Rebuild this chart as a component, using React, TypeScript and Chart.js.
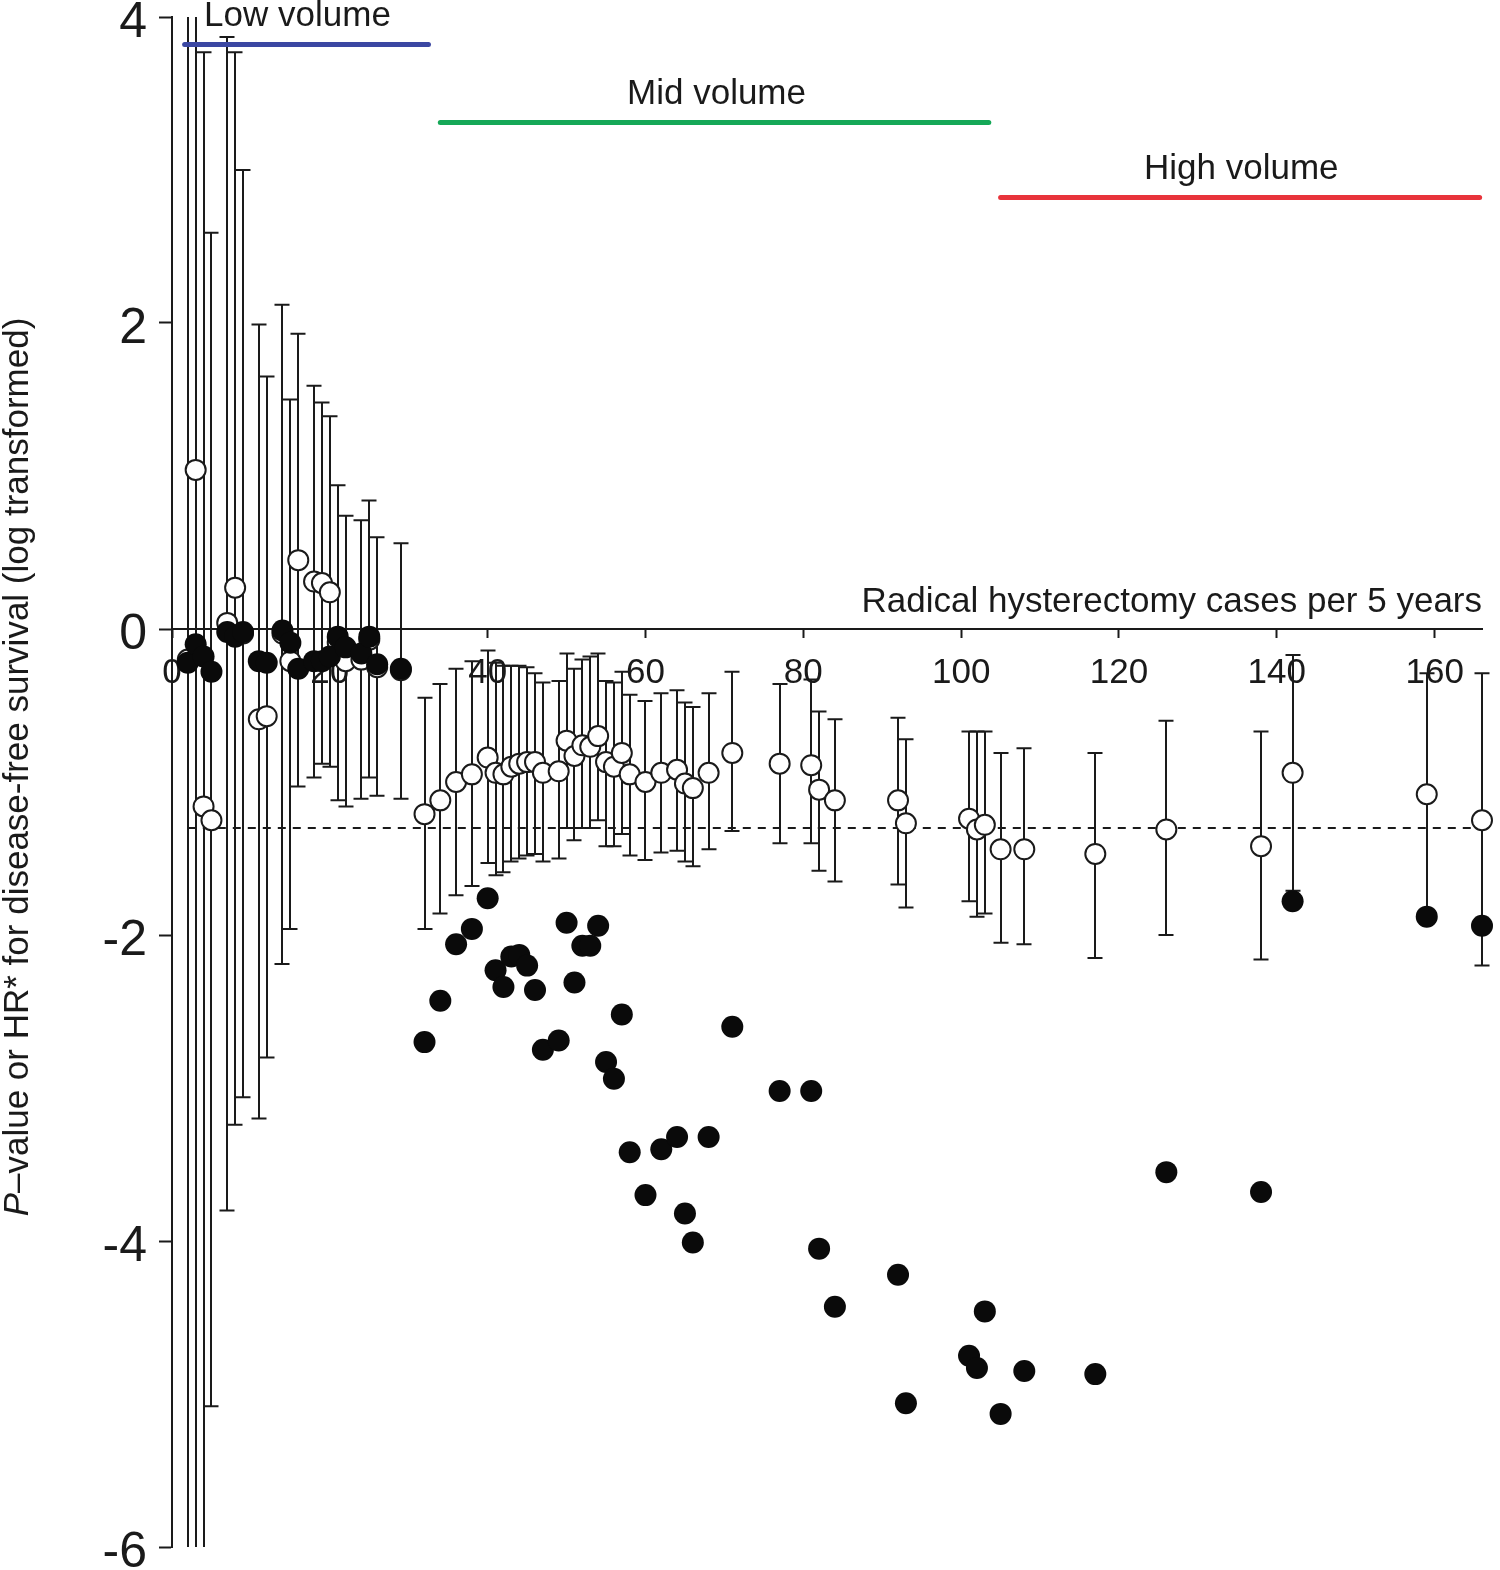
import React, { useEffect, useRef } from "react";
import { Chart, registerables } from "chart.js";

Chart.register(...registerables);

// ---------- data ----------
const caseCounts = [
  2, 3, 4, 5, 7, 8, 9, 11, 12, 14, 15, 16, 18, 19, 20, 21, 22, 24, 25, 26, 29,
  32, 34, 36, 38, 40, 41, 42, 43, 44, 45, 46, 47, 49, 50, 51, 52, 53, 54, 55, 56, 57, 58, 60, 62, 64, 65, 66, 68, 71,
  77, 81, 82, 84, 92, 93, 101, 102, 103,
  105, 108, 117, 126, 138, 142, 159, 166,
];

// log hazard ratio (open circles)
const hrLog = [
  -0.2, 1.04, -1.16, -1.25, 0.04, 0.27, -0.03, -0.59, -0.57, -0.03, -0.21, 0.45, 0.31, 0.3, 0.24, -0.09, -0.21, -0.2, -0.07, -0.25, -0.27,
  -1.21, -1.12, -1.0, -0.95, -0.84, -0.94, -0.95, -0.9, -0.88, -0.87, -0.87, -0.94, -0.93, -0.73, -0.83, -0.76, -0.77, -0.7, -0.87, -0.9, -0.81, -0.95, -1.0, -0.94, -0.92, -1.01, -1.04, -0.94, -0.81,
  -0.88, -0.89, -1.05, -1.12, -1.12, -1.27, -1.24, -1.31, -1.28,
  -1.44, -1.44, -1.47, -1.31, -1.42, -0.94, -1.08, -1.25,
];

const hrLower = [
  -9, -9, -9, -5.08, -3.8, -3.24, -3.06, -3.2, -2.8, -2.19, -1.96, -1.03, -0.97, -0.88, -0.9, -1.12, -1.16, -1.11, -0.97, -1.09, -1.11,
  -1.96, -1.86, -1.74, -1.68, -1.53, -1.61, -1.59, -1.52, -1.5, -1.48, -1.47, -1.52, -1.5, -1.3, -1.38, -1.3, -1.3, -1.25, -1.42, -1.42, -1.34, -1.48, -1.51, -1.46, -1.45, -1.52, -1.55, -1.44, -1.32,
  -1.4, -1.4, -1.58, -1.65, -1.67, -1.82, -1.78, -1.88, -1.86,
  -2.05, -2.06, -2.15, -2.0, -2.16, -1.71, -1.87, -2.2,
];

const hrUpper = [
  9, 9, 3.77, 2.59, 3.87, 3.77, 3.0, 1.99, 1.65, 2.12, 1.5, 1.93, 1.59, 1.48, 1.39, 0.94, 0.74, 0.71, 0.84, 0.6, 0.56,
  -0.45, -0.36, -0.26, -0.21, -0.14, -0.22, -0.24, -0.24, -0.24, -0.25, -0.29, -0.35, -0.34, -0.16, -0.26, -0.2, -0.18, -0.16, -0.34, -0.35, -0.28, -0.43, -0.47, -0.42, -0.4, -0.48, -0.51, -0.42, -0.28,
  -0.36, -0.33, -0.54, -0.59, -0.58, -0.72, -0.67, -0.67, -0.67,
  -0.81, -0.78, -0.81, -0.6, -0.67, -0.17, -0.29, -0.29,
];

// log P-value (filled circles)
const pLog = [
  -0.22, -0.1, -0.18, -0.28, -0.02, -0.05, -0.02, -0.21, -0.22, -0.01, -0.09, -0.26, -0.21, -0.21, -0.18, -0.05, -0.12, -0.16, -0.05, -0.23, -0.26,
  -2.7, -2.43, -2.06, -1.96, -1.76, -2.23, -2.34, -2.14, -2.13, -2.2, -2.36, -2.75, -2.69, -1.92, -2.31, -2.07, -2.07, -1.94, -2.83, -2.94, -2.52, -3.42, -3.7, -3.4, -3.32, -3.82, -4.01, -3.32, -2.6,
  -3.02, -3.02, -4.05, -4.43, -4.22, -5.06, -4.75, -4.83, -4.46,
  -5.13, -4.85, -4.87, -3.55, -3.68, -1.78, -1.88, -1.94,
];

const volumeLabels = ["Low volume", "Mid volume", "High volume"];
const volumeStart = [1.6, 34, 105];
const volumeEnd = [32.5, 103.5, 165.7];
const volumeLevel = [3.82, 3.31, 2.82];
const volumeLabelX = [15.9, 69, 135.5];
const volumeColors = ["#3b47a2", "#15a857", "#e8333b"];

const significanceLevel = -1.301;
const significanceRange = [2, 166];

const xRange = [0, 166];
const yRange = [-6, 4];
const xStep = 20;
const yStep = 2;

const xAxisTitle = "Radical hysterectomy cases per 5 years";
const yAxisTitleItalic = "P";
const yAxisTitleRest = "\u2013value or HR* for disease-free survival (log transformed)";

// ---------- styling ----------
const FONT = "'Liberation Sans', Arial, Helvetica, sans-serif";
const INK = "#1a1a1a";
const TEXT_SIZE = 35;

const errorBarPlugin = {
  id: "errorBars",
  beforeDatasetsDraw(chart: any) {
    const { ctx, scales } = chart;
    const x = scales.x;
    const y = scales.y;
    ctx.save();
    ctx.strokeStyle = INK;
    ctx.lineWidth = 2;
    const capHalf = 7.5;
    for (let i = 0; i < caseCounts.length; i++) {
      const px = Math.round(x.getPixelForValue(caseCounts[i]));
      const hi = Math.min(hrUpper[i], y.max);
      const lo = Math.max(hrLower[i], y.min);
      const pyTop = y.getPixelForValue(hi);
      const pyBot = y.getPixelForValue(lo);
      ctx.beginPath();
      ctx.moveTo(px, pyTop);
      ctx.lineTo(px, pyBot);
      if (hrUpper[i] <= y.max) {
        ctx.moveTo(px - capHalf, pyTop);
        ctx.lineTo(px + capHalf, pyTop);
      }
      if (hrLower[i] >= y.min) {
        ctx.moveTo(px - capHalf, pyBot);
        ctx.lineTo(px + capHalf, pyBot);
      }
      ctx.stroke();
    }
    ctx.restore();
  },
};

const textPlugin = {
  id: "texts",
  afterDraw(chart: any) {
    const { ctx, scales, chartArea } = chart;
    const x = scales.x;
    const y = scales.y;
    ctx.save();
    ctx.fillStyle = INK;

    // volume labels
    ctx.font = `${TEXT_SIZE}px ${FONT}`;
    ctx.textAlign = "center";
    ctx.textBaseline = "middle";
    for (let i = 0; i < volumeLabels.length; i++) {
      ctx.fillText(volumeLabels[i], x.getPixelForValue(volumeLabelX[i]), y.getPixelForValue(volumeLevel[i]) - 28);
    }

    // x axis title (above axis line, right aligned)
    ctx.font = `${TEXT_SIZE}px ${FONT}`;
    ctx.textAlign = "right";
    ctx.textBaseline = "alphabetic";
    ctx.fillText(xAxisTitle, chartArea.right, y.getPixelForValue(0) - 17);

    // y axis title rotated
    const size = TEXT_SIZE;
    ctx.translate(18, 767);
    ctx.rotate(-Math.PI / 2);
    ctx.textBaseline = "middle";
    ctx.textAlign = "left";
    ctx.font = `italic ${size}px ${FONT}`;
    const w1 = ctx.measureText(yAxisTitleItalic).width;
    ctx.font = `${size}px ${FONT}`;
    const w2 = ctx.measureText(yAxisTitleRest).width;
    const start = -(w1 + w2) / 2;
    ctx.font = `italic ${size}px ${FONT}`;
    ctx.fillText(yAxisTitleItalic, start, 0);
    ctx.font = `${size}px ${FONT}`;
    ctx.fillText(yAxisTitleRest, start + w1, 0);
    ctx.restore();
  },
};

export default function App() {
  const canvasRef = useRef<HTMLCanvasElement | null>(null);

  useEffect(() => {
    if (!canvasRef.current) return;

    const volumeDatasets = volumeLabels.map((label, i) => ({
      type: "line" as const,
      label,
      data: [
        { x: volumeStart[i], y: volumeLevel[i] },
        { x: volumeEnd[i], y: volumeLevel[i] },
      ],
      borderColor: volumeColors[i],
      borderWidth: 5,
      borderCapStyle: "round" as const,
      pointRadius: 0,
      showLine: true,
      clip: false as const,
    }));

    const chart = new Chart(canvasRef.current, {
      type: "scatter",
      data: {
        datasets: [
          ...volumeDatasets,
          {
            type: "scatter",
            label: "P-value",
            data: caseCounts.map((c, i) => ({ x: c, y: pLog[i] })),
            pointRadius: 11,
            pointBackgroundColor: "#0a0a0a",
            pointBorderColor: "#0a0a0a",
            pointBorderWidth: 0,
            clip: false,
          },
          {
            type: "scatter",
            label: "HR",
            data: caseCounts.map((c, i) => ({ x: c, y: hrLog[i] })),
            pointRadius: 10,
            pointBackgroundColor: "#ffffff",
            pointBorderColor: INK,
            pointBorderWidth: 2,
            clip: false,
          },
          {
            type: "line",
            label: "P = 0.05",
            data: [
              { x: significanceRange[0], y: significanceLevel },
              { x: significanceRange[1], y: significanceLevel },
            ],
            borderColor: INK,
            borderWidth: 2,
            borderDash: [8, 7],
            pointRadius: 0,
            showLine: true,
            clip: false,
          },
        ],
      } as any,
      options: {
        responsive: false,
        animation: false,
        events: [],
        layout: { padding: { left: 0, right: 18, top: 17, bottom: 23 } },
        plugins: {
          legend: { display: false },
          tooltip: { enabled: false },
        },
        scales: {
          x: {
            type: "linear",
            min: xRange[0],
            max: xRange[1],
            position: { y: 0 } as any,
            ticks: {
              stepSize: xStep,
              includeBounds: false,
              autoSkip: false,
              maxRotation: 0,
              color: INK,
              padding: 15,
              font: { family: FONT, size: 35 },
            },
            grid: {
              drawOnChartArea: false,
              drawTicks: true,
              tickLength: 8,
              tickWidth: 2,
              color: INK,
            },
            border: { display: true, color: INK, width: 2 },
            afterFit(scale: any) {
              scale.paddingLeft = 0;
              scale.paddingRight = 0;
            },
          },
          y: {
            type: "linear",
            min: yRange[0],
            max: yRange[1],
            position: "left",
            ticks: {
              stepSize: yStep,
              color: INK,
              padding: 12,
              labelOffset: 6,
              font: { family: FONT, size: 50 },
            },
            grid: {
              drawOnChartArea: false,
              drawTicks: true,
              tickLength: 13,
              tickWidth: 2,
              color: INK,
            },
            border: { display: true, color: INK, width: 2 },
            afterFit(scale: any) {
              scale.width = 172;
              scale.paddingTop = 0;
              scale.paddingBottom = 0;
            },
          },
        },
      } as any,
      plugins: [errorBarPlugin, textPlugin],
    });

    return () => chart.destroy();
  }, []);

  return (
    <div style={{ position: "absolute", left: 0, top: 0, width: 1500, height: 1570, background: "#fff" }}>
      <canvas ref={canvasRef} width={1500} height={1570} style={{ width: 1500, height: 1570, display: "block" }} />
    </div>
  );
}
